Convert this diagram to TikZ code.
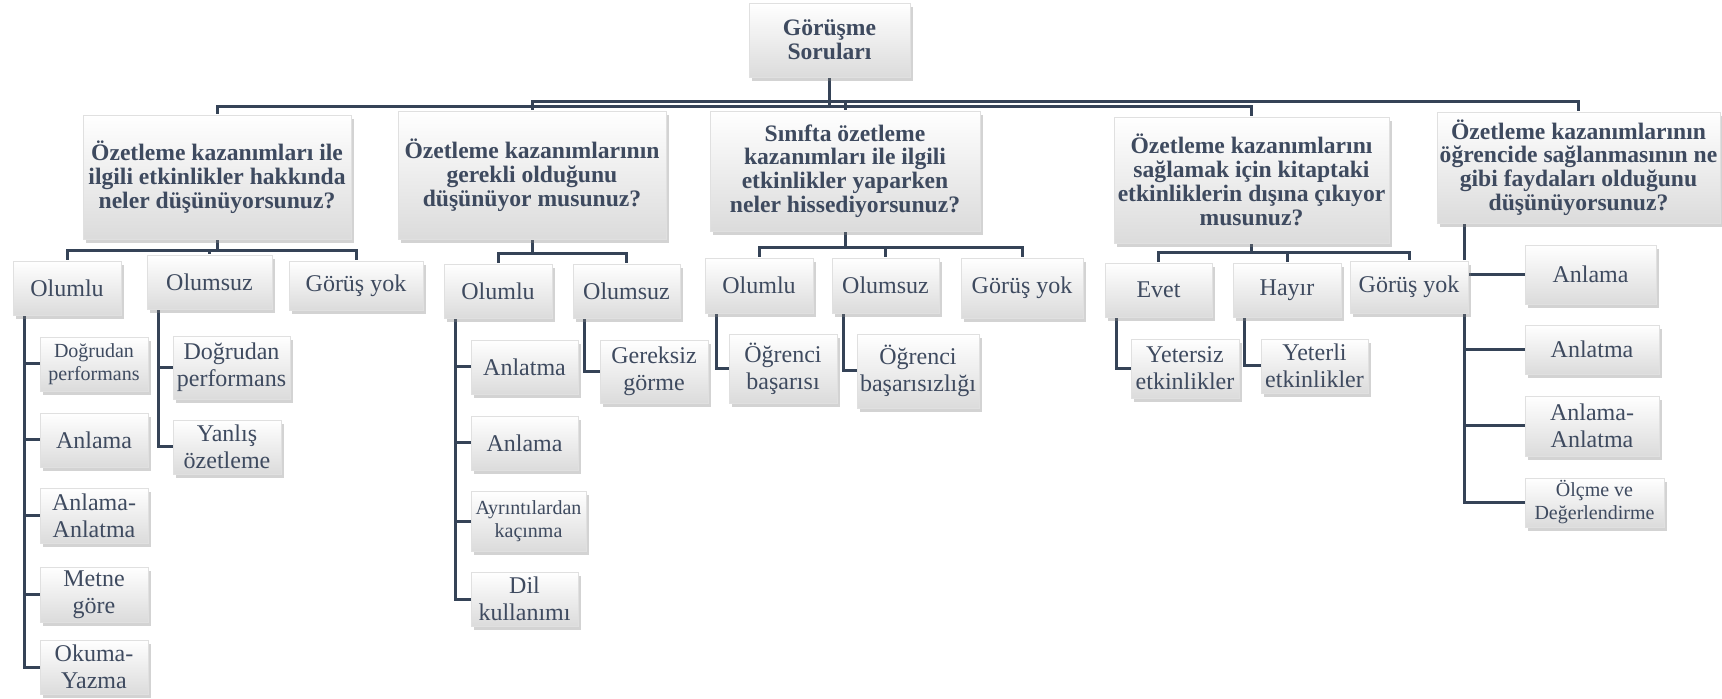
\documentclass[tikz,border=0pt]{standalone}
\usepackage{fontspec}
\setmainfont{Liberation Serif}
\usepackage{xcolor}
\usetikzlibrary{shadows,backgrounds}
\definecolor{wireblue}{HTML}{354357}
\definecolor{textblue}{HTML}{3E4A5F}

\tikzset{
  card/.style={draw=black!12, very thin, top color=white, bottom color=black!14,
    drop shadow={shadow xshift=1.6pt, shadow yshift=-2pt, opacity=.35},
    text=textblue, align=center, inner sep=0pt},
  boxsize/.style 2 args={minimum width=#1*0.5pt, minimum height=#2*0.5pt},
  qcard/.style={card, font=\fontsize{11.8}{11.9}\selectfont\bfseries},
  acard/.style={card, font=\fontsize{12}{13.5}\selectfont},
  scard/.style={card, font=\fontsize{10}{11.5}\selectfont},
  wire/.style={draw=wireblue, line width=1.5pt},
}

\begin{document}
\begin{tikzpicture}[x=0.5pt, y=-0.5pt]
\useasboundingbox (0,0) rectangle (1722,699);

% sorular
\node[qcard, boxsize={161}{74}] (root) at (829.5,40) {Görüşme\\Soruları};
\node[qcard, boxsize={268}{124}] (q1) at (217,177) {Özetleme kazanımları ile\\ilgili etkinlikler hakkında\\neler düşünüyorsunuz?};
\node[qcard, boxsize={268}{128}] (q2) at (532,175) {Özetleme kazanımlarının\\gerekli olduğunu\\düşünüyor musunuz?};
\node[qcard, boxsize={270}{120}] (q3) at (845,171) {Sınıfta özetleme\\kazanımları ile ilgili\\etkinlikler yaparken\\neler hissediyorsunuz?};
\node[qcard, boxsize={275}{126}] (q4) at (1251.5,180) {Özetleme kazanımlarını\\sağlamak için kitaptaki\\etkinliklerin dışına çıkıyor\\musunuz?};
\node[qcard, boxsize={283}{111}] (q5) at (1578.5,167.5) {Özetleme kazanımlarının\\öğrencide sağlanmasının ne\\gibi faydaları olduğunu\\düşünüyorsunuz?};

% cevaplar
\node[acard, boxsize={108}{54}] (a11) at (67,288) {Olumlu};
\node[acard, boxsize={125}{54}] (a12) at (209.5,282) {Olumsuz};
\node[acard, boxsize={134}{49}] (a13) at (356,285.5) {Görüş yok};
\node[acard, boxsize={108}{54}] (a21) at (498,291) {Olumlu};
\node[acard, boxsize={107}{54}] (a22) at (626.5,291) {Olumsuz};
\node[acard, boxsize={108}{55}] (a31) at (759,285.5) {Olumlu};
\node[acard, boxsize={107}{55}] (a32) at (885.5,285.5) {Olumsuz};
\node[acard, boxsize={122}{60}] (a33) at (1022,288) {Görüş yok};
\node[acard, boxsize={107}{54}] (a41) at (1158.5,290) {Evet};
\node[acard, boxsize={108}{54}] (a42) at (1287,290) {Hayır};
\node[acard, boxsize={118}{52}] (a43) at (1409,287) {Görüş yok};

% alt kodlar
\node[scard, boxsize={108}{54}] (c111) at (94,364) {Doğrudan\\performans};
\node[acard, boxsize={108}{54}] (c112) at (94,440) {Anlama};
\node[acard, boxsize={108}{55}] (c113) at (94,515.5) {Anlama-\\Anlatma};
\node[acard, boxsize={108}{55}] (c114) at (94,594.5) {Metne\\göre};
\node[acard, boxsize={108}{54}] (c115) at (94,667) {Okuma-\\Yazma};
\node[acard, boxsize={117}{63}] (c121) at (231.5,367.5) {Doğrudan\\performans};
\node[acard, boxsize={108}{54}] (c122) at (227,447) {Yanlış\\özetleme};
\node[acard, boxsize={107}{54}] (c211) at (524.5,367) {Anlatma};
\node[acard, boxsize={107}{54}] (c212) at (524.5,443) {Anlama};
\node[scard, boxsize={115}{60}] (c213) at (528.5,521) {Ayrıntılardan\\kaçınma};
\node[acard, boxsize={107}{54}] (c214) at (524.5,599) {Dil\\kullanımı};
\node[acard, boxsize={108}{63}] (c221) at (654,371.5) {Gereksiz\\görme};
\node[acard, boxsize={108}{69}] (c311) at (783,368.5) {Öğrenci\\başarısı};
\node[acard, boxsize={122}{74}] (c321) at (918,371) {Öğrenci\\başarısızlığı};
\node[acard, boxsize={108}{59}] (c411) at (1185,368.5) {Yetersiz\\etkinlikler};
\node[acard, boxsize={107}{54}] (c421) at (1314.5,366) {Yeterli\\etkinlikler};
\node[acard, boxsize={131}{59}] (c51) at (1590.5,274.5) {Anlama};
\node[acard, boxsize={134}{49}] (c52) at (1592,349.5) {Anlatma};
\node[acard, boxsize={134}{60}] (c53) at (1592,426) {Anlama-\\Anlatma};
\node[scard, boxsize={139}{49}] (c54) at (1594.5,502.5) {Ölçme ve\\Değerlendirme};

\begin{scope}[on background layer]
\draw[wire] (root.south) -- ++(0,29) -| (q1.north);
\draw[wire] (root.south) -- ++(0,24) -| (q2.north);
\draw[wire] (root.south) -- ++(0,24) -| (q3.north);
\draw[wire] (root.south) -- ++(0,29) -| (q4.north);
\draw[wire] (root.south) -- ++(0,24) -| (q5.north);

\foreach \c in {a11,a12,a13} \draw[wire] (q1.south) -- ++(0,11) -| (\c.north);
\foreach \c in {a21,a22} \draw[wire] (q2.south) -- ++(0,14) -| (\c.north);
\foreach \c in {a31,a32,a33} \draw[wire] (q3.south) -- ++(0,16) -| (\c.north);
\foreach \c in {a41,a42,a43} \draw[wire] (q4.south) -- ++(0,9) -| (\c.north);

\foreach \c in {c111,c112,c113,c114,c115} \draw[wire] ([xshift=6pt]a11.south west) |- (\c.west);
\foreach \c in {c121,c122} \draw[wire] ([xshift=6pt]a12.south west) |- (\c.west);
\foreach \c in {c211,c212,c213,c214} \draw[wire] ([xshift=6pt]a21.south west) |- (\c.west);
\draw[wire] ([xshift=6pt]a22.south west) |- (c221.west);
\draw[wire] ([xshift=6pt]a31.south west) |- (c311.west);
\draw[wire] ([xshift=6pt]a32.south west) |- (c321.west);
\draw[wire] ([xshift=6pt]a41.south west) |- (c411.west);
\draw[wire] ([xshift=6pt]a42.south west) |- (c421.west);
\foreach \c in {c51,c52,c53,c54} \draw[wire] ([xshift=14pt]q5.south west) |- (\c.west);
\end{scope}

\end{tikzpicture}
\end{document}
